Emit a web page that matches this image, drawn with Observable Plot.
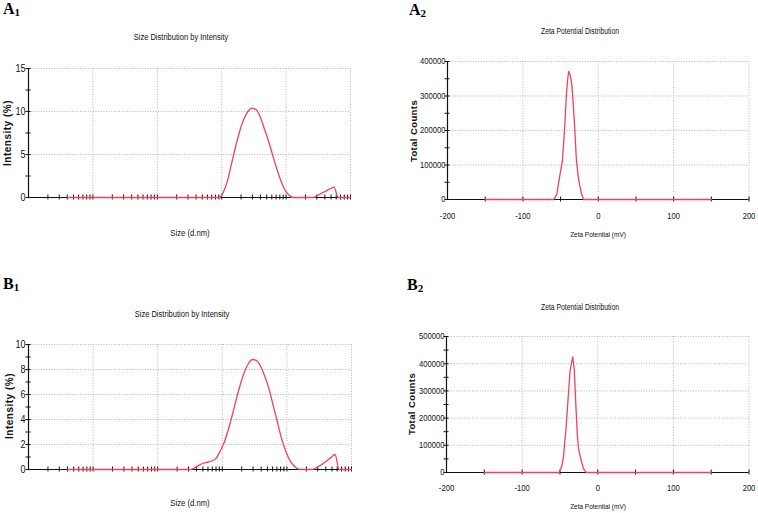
<!DOCTYPE html>
<html><head><meta charset="utf-8">
<script src="https://cdn.jsdelivr.net/npm/d3@7"></script>
<script src="https://cdn.jsdelivr.net/npm/@observablehq/plot@0.6"></script>
<style>
body{margin:0;background:#fff;}
#wrap{position:relative;width:758px;height:513px;overflow:hidden;background:#fff;}
.panel{position:absolute;}
.t{position:absolute;transform:translate(-50%,-50%) scaleX(0.82);white-space:nowrap;color:#111;line-height:1;
   font-family:"Liberation Sans",Arial,sans-serif;}
.yl{font-family:"Liberation Sans",Arial,sans-serif;font-weight:bold;transform:translate(-50%,-50%) rotate(-90deg);}
.lbl{position:absolute;font-family:"Liberation Serif","Times New Roman",serif;font-weight:bold;font-size:16px;line-height:1;color:#000;white-space:nowrap;}
.lbl span{font-size:11px;position:relative;top:2px;}
</style>
</head><body>
<div id="wrap"></div>
<script>
// ---------- data ----------
const sizeBins = [0.4,0.4632,0.5365,0.6213,0.7195,0.8332,0.9649,1.117,1.294,1.499,1.736,2.010,2.328,2.696,3.122,3.615,4.187,4.849,5.615,6.503,7.531,8.721,10.10,11.70,13.54,15.69,18.17,21.04,24.36,28.21,32.67,37.84,43.82,50.75,58.77,68.06,78.82,91.28,105.7,122.4,141.8,164.2,190.1,220.2,255.0,295.3,342.0,396.1,458.7,531.2,615.1,712.4,825.0,955.4,1106,1281,1484,1718,1990,2305,2669,3091,3580,4145,4801,5560,6439,7456,8635,10000];
const intensityA1 = [0,0,0,0,0,0,0,0,0,0,0,0,0,0,0,0,0,0,0,0,0,0,0,0,0,0,0,0,0,0,0,0,0,0,0,0,0,0,0.6,1.9,3.9,5.9,7.7,9.1,10.0,10.4,10.2,9.4,8.0,6.6,5.0,3.4,2.0,0.9,0.3,0,0,0,0,0,0,0.25,0.5,0.75,1.0,1.2,0,0,0,0];
const intensityB1 = [0,0,0,0,0,0,0,0,0,0,0,0,0,0,0,0,0,0,0,0,0,0,0,0,0,0,0,0,0,0,0,0.15,0.35,0.5,0.58,0.68,0.85,1.4,2.1,3.1,4.3,5.6,6.8,7.8,8.5,8.8,8.7,8.2,7.4,6.4,5.1,3.8,2.5,1.5,0.75,0.3,0.05,0,0,0,0.05,0.25,0.45,0.7,0.95,1.2,0,0,0,0];

const zetaA2mV     = [-150,-59,-55,-52,-47.5,-44.5,-42.2,-40.5,-39.2,-37,-35,-33.5,-31,-29,-26.5,-24.6,-22,-19.3,150];
const zetaA2Counts = [0,0,15000,56000,114000,210000,306000,350000,371000,360000,330000,287000,200000,114000,65000,41000,15000,0,0];
const zetaB2mV     = [-150,-51,-48,-45.4,-42,-39,-36.6,-34.5,-33.1,-32,-31,-29,-27,-25.7,-22,-19,-15.5,150];
const zetaB2Counts = [0,0,20000,55000,160000,280000,374000,405000,425000,400000,380000,250000,140000,92000,45000,15000,0,0];

const sizeTicks = [0.1,1,10,100,1000,10000];
const sizeTickLabels = ["0.1","1","10","100","1000","10000"];
const sizeMinorTicks = [0.2,0.3,0.4,0.5,0.6,0.7,0.8,0.9,2,3,4,5,6,7,8,9,20,30,40,50,60,70,80,90,200,300,400,500,600,700,800,900,2000,3000,4000,5000,6000,7000,8000,9000];
const zetaTicks = [-200,-100,0,100,200];
const zetaTickLabels = ["-200","-100","0","100","200"];
const zetaMinorTicks = [-150,-100,-50,0,50,100,150];
const yTicksA1 = [0,5,10,15], yMinorA1 = [2.5,7.5,12.5];
const yTicksB1 = [0,2,4,6,8,10], yMinorB1 = [1,3,5,7,9];
const yTicksA2 = [0,100000,200000,300000,400000], yMinorA2 = [50000,150000,250000,350000];
const yTicksB2 = [0,100000,200000,300000,400000,500000], yMinorB2 = [50000,150000,250000,350000,450000];

// ---------- drawing ----------
const RED = "#f2415d", GRID = "#a9b7c1", INK = "#111";
const FONT = '"Liberation Sans",Arial,sans-serif';
const wrap = document.getElementById("wrap");

function addText(txt, x, y, size, extra) {
  const d = document.createElement("div");
  d.className = "t" + (extra ? " " + extra : ""); d.textContent = txt;
  d.style.left = x + "px"; d.style.top = y + "px"; d.style.fontSize = size + "px";
  wrap.appendChild(d);
  return d;
}
function addLabel(letter, sub, x, y) {
  const d = document.createElement("div");
  d.className = "lbl"; d.innerHTML = letter + "<span>" + sub + "</span>";
  d.style.left = x + "px"; d.style.top = y + "px";
  wrap.appendChild(d);
}

function panel(o) {
  const x0 = o.xDomain[0];
  const pts = o.xs.map((x, i) => ({x, y: o.ys[i]}));
  const yAll = o.yMajor.concat(o.yMinor);
  const svg = Plot.plot({
    width: o.width, height: o.height,
    marginLeft: o.mL, marginRight: o.mR, marginTop: o.mT, marginBottom: o.mB,
    x: {type: o.xType, domain: o.xDomain},
    y: {type: "linear", domain: o.yDomain},
    style: {fontFamily: FONT, fontSize: o.fs + "px", color: INK, background: "transparent", overflow: "visible"},
    marks: [
      Plot.ruleX(o.xGrid, {stroke: GRID, strokeDasharray: "1,1.6", strokeWidth: 1}),
      Plot.ruleY(o.yMajor.filter(v => v > 0), {stroke: GRID, strokeDasharray: "1,1.6", strokeWidth: 1}),
      Plot.ruleY([0], {stroke: INK, strokeWidth: 1.2}),
      Plot.ruleX([x0], {stroke: INK, strokeWidth: 1.2}),
      Plot.ruleX(o.xMinor, {x: d => d, y1: () => 0, y2: () => 0, insetTop: -2.5, insetBottom: -2.5, stroke: INK, strokeWidth: 1}),
      Plot.ruleY(yAll, {y: d => d, x1: () => x0, x2: () => x0, insetLeft: -2.5, insetRight: -2.5, stroke: INK, strokeWidth: 1}),
      Plot.axisX(o.xMajor, {tickSize: 0, tickPadding: o.xPad, tickFormat: (d, i) => o.xLabels[i], label: null, fontSize: o.fs}),
      Plot.axisY(o.yMajor, {tickSize: 0, tickPadding: o.yPad, tickFormat: d => String(d), label: null, fontSize: o.fs}),
      Plot.line(pts, {x: "x", y: "y", stroke: RED, strokeWidth: 1.3, curve: o.curve || "monotone-x"})
    ]
  });
  svg.classList.add("panel");
  svg.style.left = o.left + "px"; svg.style.top = o.top + "px";
  wrap.appendChild(svg);
  // narrow the tick labels (Arial Narrow look) without moving their anchors
  svg.querySelectorAll("text").forEach(t => {
    const w = t.getComputedTextLength();
    if (w > 0) {
      t.setAttribute("textLength", (w * 0.82).toFixed(2));
      t.setAttribute("lengthAdjust", "spacingAndGlyphs");
    }
  });
}

// A1
panel({left: 0, top: 0, width: 379, height: 256, mL: 28, mR: 29, mT: 68, mB: 59, fs: 11,
  xType: "log", xDomain: [0.1, 10000], xMajor: sizeTicks, xLabels: sizeTickLabels, xGrid: sizeTicks.slice(1), xMinor: sizeMinorTicks.concat(sizeTicks.slice(1)),
  yDomain: [0, 15], yMajor: yTicksA1, yMinor: yMinorA1, xs: sizeBins, ys: intensityA1, xPad: 11, yPad: 3});
// A2
panel({left: 380, top: 0, width: 378, height: 256, mL: 67, mR: 9.5, mT: 61, mB: 57, fs: 9.3,
  xType: "linear", xDomain: [-200, 200], xMajor: zetaTicks, xLabels: zetaTickLabels, xGrid: zetaTicks.slice(1), xMinor: zetaMinorTicks.concat([200]),
  yDomain: [0, 400000], yMajor: yTicksA2, yMinor: yMinorA2, xs: zetaA2mV, ys: zetaA2Counts, xPad: 12.5, yPad: 2, curve: "linear"});
// B1
panel({left: 0, top: 256, width: 379, height: 257, mL: 28, mR: 28, mT: 88, mB: 44, fs: 11,
  xType: "log", xDomain: [0.1, 10000], xMajor: sizeTicks, xLabels: sizeTickLabels, xGrid: sizeTicks.slice(1), xMinor: sizeMinorTicks.concat(sizeTicks.slice(1)),
  yDomain: [0, 10], yMajor: yTicksB1, yMinor: yMinorB1, xs: sizeBins, ys: intensityB1, xPad: 10, yPad: 3});
// B2
panel({left: 380, top: 256, width: 378, height: 257, mL: 66, mR: 9.5, mT: 80, mB: 41, fs: 9.3,
  xType: "linear", xDomain: [-200, 200], xMajor: zetaTicks, xLabels: zetaTickLabels, xGrid: zetaTicks.slice(1), xMinor: zetaMinorTicks.concat([200]),
  yDomain: [0, 500000], yMajor: yTicksB2, yMinor: yMinorB2, xs: zetaB2mV, ys: zetaB2Counts, xPad: 12, yPad: 2, curve: "linear"});

// titles and axis labels
addText("Size Distribution by Intensity", 181, 38, 9.2);
addText("Zeta Potential Distribution", 580, 31, 8.3);
addText("Size Distribution by Intensity", 182, 315, 9.2);
addText("Zeta Potential Distribution", 580, 307, 8.3);
addText("Size (d.nm)", 190, 233, 9.4);
addText("Zeta Potential (mV)", 598, 235, 7.9);
addText("Size (d.nm)", 190, 503, 9.4);
addText("Zeta Potential (mV)", 598, 507, 7.9);
const y1 = addText("Intensity (%)", 8, 133, 10, "yl"); y1.style.letterSpacing = "0.5px";
const y2 = addText("Total Counts", 414, 131, 9.5, "yl"); y2.style.letterSpacing = "0.4px";
const y3 = addText("Intensity (%)", 9.5, 406, 10, "yl"); y3.style.letterSpacing = "0.5px";
const y4 = addText("Total Counts", 412, 404, 9.5, "yl"); y4.style.letterSpacing = "0.4px";
addLabel("A", "1", 3, 1);
addLabel("A", "2", 409, 2);
addLabel("B", "1", 3, 276);
addLabel("B", "2", 407, 277);
</script>
</body></html>
